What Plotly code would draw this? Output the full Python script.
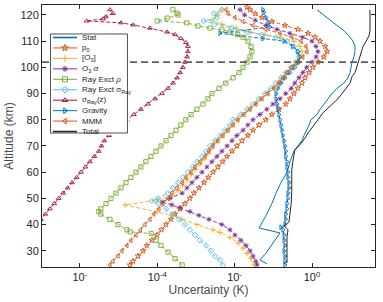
import plotly.graph_objects as go

# ---------------- data (altitude km, uncertainty K) ----------------
alt_stat = [25, 26.5, 29, 32, 35, 36.8, 38.7, 40, 44, 48, 52, 56, 60, 64, 68, 70, 72, 74, 76, 78,
            80, 82, 84, 86, 88, 90, 92, 94, 96, 98, 100, 102, 104, 106, 108, 110, 112, 114,
            116, 118, 120, 122]
stat = [6.8e-2, 4.5e-2, 6.4e-2, 8.7e-2, 0.124, 0.149, 4.27e-2, 4.8e-2, 6.8e-2, 9.2e-2, 0.117,
        0.158, 0.226, 0.27, 0.34, 0.43, 0.55, 0.62, 0.74, 0.84, 0.94, 1.35, 1.61, 2.04, 2.6, 3.3,
        4.4, 6.7, 8.5, 9.6, 10.2, 10.8, 12.1, 12.9, 12.9, 11.5, 9.0, 6.7, 4.4, 2.92, 2.04, 1.35]

alt_p0 = [24.6, 26, 28, 30, 32, 34, 36, 38, 40, 42, 44, 46, 48, 50, 52, 54, 56, 58, 60, 62, 64,
          66, 68, 70, 72, 74, 76, 78, 80, 82, 84, 86, 88, 90, 92, 94, 96, 98, 100, 102, 104, 106,
          108, 110, 111.5, 113, 114.5, 116, 117.5, 119, 120.5, 122, 123]
p0 = [1.98e-5, 2.37e-5, 3.2e-5, 4.3e-5, 5.4e-5, 7.3e-5, 9.8e-5, 1.29e-4, 1.69e-4, 2.27e-4, 2.9e-4,
      3.88e-4, 5.2e-4, 7.0e-4, 8.9e-4, 1.2e-3, 1.62e-3, 2.1e-3, 2.77e-3, 3.7e-3, 4.9e-3, 6.36e-3,
      8.6e-3, 1.15e-2, 1.55e-2, 2.2e-2, 2.98e-2, 4.27e-2, 6.4e-2, 9.2e-2, 0.14, 0.21, 0.27, 0.34,
      0.43, 0.55, 0.66, 0.84, 1.06, 1.43, 2.03, 2.45, 2.2, 1.61, 1.2, 0.79, 0.43, 0.2, 9.2e-2,
      5.1e-2, 3.4e-2, 2.5e-2, 2.1e-2]

alt_o3 = [24.6, 27, 29, 31, 33, 35, 37, 38, 40, 42, 43.5, 44.8, 47.5, 49.4, 51, 53, 55, 57, 59,
          61, 63, 65, 67, 69, 71, 72, 74, 76, 78, 80, 82, 84, 86, 88, 90, 92, 94, 96, 98, 100,
          102, 104, 106, 108, 110, 111.5, 112.5, 113.5, 115, 116.5, 118, 120, 122]
o3 = [3.17e-2, 2.65e-2, 2.09e-2, 1.65e-2, 1.22e-2, 7.6e-3, 4.2e-3, 2.76e-3, 1.06e-3, 4.4e-4,
      2.4e-4, 9.8e-5, 1.47e-5, 9.8e-5, 2.4e-4, 3.45e-4, 4.6e-4, 5.9e-4, 7.5e-4, 9.5e-4, 1.28e-3,
      1.62e-3, 2.05e-3, 2.45e-3, 2.9e-3, 3.5e-3, 4.7e-3, 6.4e-3, 8.6e-3, 1.15e-2, 1.65e-2,
      2.35e-2, 3.4e-2, 4.8e-2, 6.9e-2, 9.8e-2, 0.133, 0.168, 0.226, 0.30, 0.385, 0.49, 0.55,
      0.49, 0.34, 0.149, 6.1e-2, 2.5e-2, 1.1e-2, 4.7e-3, 2.6e-3, 3.7e-3, 4.7e-3]

alt_o3sig = [24.6, 26, 28, 30, 32, 34, 36, 38, 40, 42, 43.5, 45, 46.5, 47.5, 48.6, 50, 52, 54, 56,
             58, 60, 62, 64, 66, 68, 70, 72, 74, 76, 78, 80, 82, 84, 86, 88, 90, 92, 94, 96, 98,
             100, 102, 104, 106, 108, 110, 111.5, 113, 114.5, 116, 118, 120, 122]
o3sig = [3.8e-2, 3.55e-2, 3.0e-2, 2.5e-2, 1.97e-2, 1.46e-2, 1.02e-2, 7.6e-3, 4.7e-3, 2.17e-3,
         1.2e-3, 7.0e-4, 3.9e-4, 2.4e-4, 1.33e-4, 2.14e-4, 4.4e-4, 5.9e-4, 7.9e-4, 1.06e-3,
         1.44e-3, 1.93e-3, 2.6e-3, 3.5e-3, 4.7e-3, 6.4e-3, 8.6e-3, 1.15e-2, 1.65e-2, 2.2e-2,
         3.0e-2, 4.5e-2, 6.8e-2, 9.8e-2, 0.149, 0.21, 0.29, 0.36, 0.46, 0.58, 0.73, 1.0, 1.27,
         1.43, 1.27, 1.0, 0.58, 0.27, 0.124, 6.4e-2, 3.4e-2, 1.8e-2, 1.38e-2]

alt_rho = [24.6, 27, 29.5, 32, 34, 36.6, 37.2, 38, 40, 42, 44, 45, 46, 48, 50, 52, 54, 56, 58, 60,
           62, 64, 66, 68, 70, 72, 74, 76, 78, 80, 82, 84, 86, 88, 90, 92, 94, 96, 98, 100, 102,
           104, 106, 108, 110, 111.5, 112.5, 113.5, 114.3, 115, 115.8, 117, 117.7, 118.8, 120,
           120.7, 122]
ray_rho = [4.4e-4, 2.9e-4, 1.9e-4, 1.25e-4, 9.3e-5, 7.0e-5, 2.0e-5, 1.65e-5, 9.7e-6, 6.0e-6,
           3.5e-6, 3.1e-6, 3.5e-6, 4.76e-6, 6.4e-6, 8.6e-6, 1.16e-5, 1.56e-5, 2.1e-5, 2.84e-5,
           3.8e-5, 5.1e-5, 6.9e-5, 9.3e-5, 1.25e-4, 1.69e-4, 2.27e-4, 3.05e-4, 4.1e-4, 5.5e-4,
           7.5e-4, 1.06e-3, 1.52e-3, 2.05e-3, 2.6e-3, 3.96e-3, 5.9e-3, 9.1e-3, 1.3e-2, 1.65e-2,
           2.09e-2, 2.5e-2, 2.8e-2, 2.65e-2, 2.2e-2, 1.65e-2, 1.2e-2, 7.6e-3, 4.7e-3, 2.3e-3,
           1.13e-3, 5.8e-4, 1.0e-4, 1.8e-4, 3.45e-4, 3.25e-4, 2.55e-4]

alt_rsig = [24.5, 26.5, 28, 30, 32, 34, 36, 38, 40, 42, 44, 46, 48, 49, 50, 52, 54, 56, 58, 60,
            62, 64, 66, 68, 70, 72, 74, 76, 78, 80, 82, 84, 86, 88, 90, 92, 94, 96, 98, 100, 102,
            104, 106, 108, 110, 111.5, 112.5, 113.5, 115, 116.5, 117.7, 119, 120.5, 122]
ray_sig = [5.0e-3, 4.2e-3, 3.1e-3, 2.45e-3, 1.83e-3, 1.28e-3, 9.5e-4, 7.0e-4, 5.2e-4, 3.65e-4,
           2.55e-4, 1.69e-4, 1.05e-4, 7.3e-5, 1.05e-4, 1.9e-4, 2.55e-4, 3.45e-4, 4.6e-4, 6.25e-4,
           8.4e-4, 1.06e-3, 1.44e-3, 1.83e-3, 2.31e-3, 3.1e-3, 4.2e-3, 5.6e-3, 7.6e-3, 9.1e-3,
           1.46e-2, 2.09e-2, 2.98e-2, 4.27e-2, 6.1e-2, 8.7e-2, 0.117, 0.158, 0.213, 0.287, 0.386,
           0.46, 0.43, 0.34, 0.225, 0.117, 5.1e-2, 2.09e-2, 8.6e-3, 3.1e-3, 1.6e-3, 3.5e-3,
           2.9e-3, 4.7e-3]

alt_sigz = [36, 38, 40, 42, 44, 46, 48, 50, 52, 54, 56, 58, 60, 62, 64, 66, 68, 70, 72, 74, 76,
            78, 80, 82, 84, 86, 88, 90, 92, 94, 96, 98, 100, 102, 104, 106, 108, 109.5, 111,
            112.5, 113.5, 115, 116.2, 117, 117.7, 118.5, 119.3, 120.6, 122]
sig_ray_z = [4.5e-8, 5.8e-8, 7.6e-8, 9.9e-8, 1.29e-7, 1.68e-7, 2.19e-7, 2.85e-7, 3.72e-7, 4.84e-7,
             6.3e-7, 8.3e-7, 1.07e-6, 1.4e-6, 1.82e-6, 2.38e-6, 3.1e-6, 3.6e-6, 4.3e-6, 5.7e-6,
             7.6e-6, 1.09e-5, 1.65e-5, 2.5e-5, 3.8e-5, 5.8e-5, 8.8e-5, 1.33e-4, 1.9e-4, 2.55e-4,
             3.25e-4, 3.9e-4, 4.6e-4, 5.2e-4, 5.9e-4, 6.2e-4, 6.2e-4, 5.5e-4, 4.1e-4, 2.9e-4,
             1.8e-4, 6.5e-5, 2.4e-5, 1.16e-5, 1.5e-6, 4.0e-6, 4.7e-6, 7.2e-6, 6.0e-6]

alt_grav = [24.6, 26, 28, 30, 32, 34, 36, 38, 39, 40, 42, 44, 46, 48, 50, 52, 54, 56, 58, 60, 62,
            64, 66, 68, 70, 72, 74, 76, 78, 80, 82, 84, 86, 88, 90, 92, 94, 96, 98, 100, 102,
            104, 106, 108, 110, 111, 113, 115.4, 117, 119, 121, 122]
gravity = [0.2, 0.2, 0.2, 0.19, 0.2, 0.19, 0.19, 0.178, 0.158, 0.2, 0.21, 0.21, 0.226, 0.226,
           0.24, 0.24, 0.254, 0.254, 0.24, 0.24, 0.226, 0.226, 0.21, 0.21, 0.2, 0.19, 0.178,
           0.168, 0.158, 0.149, 0.14, 0.133, 0.125, 0.118, 0.118, 0.133, 0.158, 0.2, 0.27, 0.36,
           0.46, 0.49, 0.43, 0.32, 0.19, 5.4e-2, 4.2e-3, 8.2e-2, 7.3e-2, 6.5e-2, 5.7e-2, 5.4e-2]

alt_mmm = [24.6, 26, 28, 30, 32, 34, 36, 38, 40, 42, 44, 46, 48, 50, 52, 54, 56, 58, 60, 62, 64,
           66, 68, 70, 72, 74, 76, 78, 80, 82, 84, 86, 88, 90, 92, 94, 96, 98, 100, 102, 104,
           106, 108, 110, 111.5, 113, 114.5, 116, 117.5, 119, 120.5, 122]
mmm = [6.0e-6, 7.2e-6, 9.7e-6, 1.23e-5, 1.65e-5, 2.1e-5, 2.84e-5, 3.7e-5, 4.8e-5, 6.5e-5, 8.2e-5,
       1.11e-4, 1.41e-4, 1.9e-4, 2.4e-4, 3.25e-4, 4.4e-4, 5.5e-4, 7.5e-4, 9.5e-4, 1.28e-3,
       1.72e-3, 2.17e-3, 2.76e-3, 3.7e-3, 5.0e-3, 6.75e-3, 9.1e-3, 1.22e-2, 1.75e-2, 2.5e-2,
       3.55e-2, 5.1e-2, 7.3e-2, 0.104, 0.14, 0.178, 0.226, 0.30, 0.41, 0.58, 0.74, 0.70, 0.52,
       0.30, 0.149, 6.4e-2, 3.0e-2, 1.65e-2, 1.02e-2, 6.75e-3, 6.0e-3]

alt_total = [25.3, 28, 30, 32, 35.3, 38, 39.5, 41, 44.4, 48, 53, 56, 60.8, 64, 68.5, 70, 73, 75,
             77.3, 80, 82.6, 85, 87.6, 90, 92.5, 94, 96.4, 98, 101.7, 104, 108, 110, 112, 114,
             118, 122]
total = [0.226, 0.226, 0.226, 0.226, 0.226, 0.24, 0.19, 0.254, 0.27, 0.29, 0.30, 0.30, 0.30, 0.32,
         0.36, 0.46, 0.66, 0.79, 1.06, 1.43, 1.9, 2.92, 4.4, 6.0, 8.0, 9.6, 10.8, 12.9, 15.5,
         17.4, 20.8, 25.0, 29.7, 31.5, 31.5, 31.5]

ref_alt = 102  # dashed reference altitude

legend_names = ["Stat", "p<sub>0</sub>", "[O<sub>3</sub>]", "O<sub>3</sub> <i>σ</i>",
                "Ray Exct <i>ρ</i>", "Ray Exct σ<sub>Ray</sub>", "σ<sub>Ray</sub>(z)",
                "Gravity", "MMM", "Total"]

x_tick_vals = [1e-6, 1e-4, 1e-2, 1]
x_tick_text = ["10<sup>-</sup>", "10<sup>-4</sup>", "10<sup>-</sup>", "10<sup>0</sup>"]
y_tick_vals = [30, 40, 50, 60, 70, 80, 90, 100, 110, 120]

# ---------------- styling ----------------
colors = ["#0072BD", "#D95319", "#EDB120", "#7E2F8E", "#77AC30", "#4DBEEE", "#A2142F",
          "#0072BD", "#D95319", "#262626"]
symbols = [None, "star-open", "cross-thin-open", "asterisk-open", "square-open", "diamond-open",
           "triangle-up-open", "triangle-right-open", "triangle-left-open", None]
series = [(alt_stat, stat), (alt_p0, p0), (alt_o3, o3), (alt_o3sig, o3sig), (alt_rho, ray_rho),
          (alt_rsig, ray_sig), (alt_sigz, sig_ray_z), (alt_grav, gravity), (alt_mmm, mmm),
          (alt_total, total)]

FONT = "Liberation Sans, Arial, sans-serif"
TXT = "#262626"
X_RANGE = [-6.977, 1.628]
Y_RANGE = [23.8, 123.8]
MSIZE = 4.2

fig = go.Figure()
for (alts, vals), col, sym in zip(series, colors, symbols):
    if sym is None:
        fig.add_trace(go.Scatter(x=vals, y=alts, mode="lines",
                                 line=dict(color=col, width=1), showlegend=False))
    else:
        fig.add_trace(go.Scatter(x=vals, y=alts, mode="lines+markers",
                                 line=dict(color=col, width=0.9, dash="4px,2px"),
                                 marker=dict(symbol=sym, size=MSIZE, color=col,
                                             line=dict(color=col, width=0.9)),
                                 showlegend=False))

# dashed reference line
fig.add_trace(go.Scatter(x=[10 ** X_RANGE[0], 10 ** X_RANGE[1]], y=[ref_alt, ref_alt],
                         mode="lines", line=dict(color="#606060", width=1.6, dash="7px,4px"),
                         showlegend=False, hoverinfo="skip"))

# ---------------- custom legend (separate subplot drawn on top) ----------------
W, H = 383, 302
ML, MR, MT, MB = 42, 8, 5, 35
pw, ph = W - ML - MR, H - MT - MB
box_px = (49, 129, 32, 135)  # left, right, top, bottom in pixels
dom_x = [(box_px[0] - ML) / pw, (box_px[1] - ML) / pw]
dom_y = [(H - MB - box_px[3]) / ph, (H - MB - box_px[2]) / ph]
PAD = 0.02


def lx(px):
    return -PAD + (1 + 2 * PAD) * (px - box_px[0]) / (box_px[1] - box_px[0])


def ly(py):
    return -PAD + (1 + 2 * PAD) * (box_px[3] - py) / (box_px[3] - box_px[2])


annotations = []
for i, (name, col, sym) in enumerate(zip(legend_names, colors, symbols)):
    py = 37.5 + i * 10.45
    yy = ly(py)
    fig.add_trace(go.Scatter(x=[lx(53), lx(77)], y=[yy, yy], mode="lines",
                             line=dict(color=col, width=1.6 if sym is None else 1),
                             xaxis="x2", yaxis="y2", showlegend=False, hoverinfo="skip"))
    if sym is not None:
        fig.add_trace(go.Scatter(x=[lx(65)], y=[yy], mode="markers",
                                 marker=dict(symbol=sym, size=5, color=col,
                                             line=dict(color=col, width=1)),
                                 xaxis="x2", yaxis="y2", showlegend=False, hoverinfo="skip"))
    annotations.append(dict(x=lx(80), y=yy, xref="x2", yref="y2", text=name, showarrow=False,
                            xanchor="left", yanchor="middle",
                            font=dict(family=FONT, size=8, color=TXT)))

fig.update_layout(
    width=W, height=H,
    margin=dict(l=ML, r=MR, t=MT, b=MB),
    paper_bgcolor="white", plot_bgcolor="white",
    showlegend=False,
    font=dict(family=FONT, color=TXT, size=11),
    xaxis=dict(type="log", range=X_RANGE, tickvals=x_tick_vals, ticktext=x_tick_text,
               ticks="inside", ticklen=4, tickcolor=TXT, showline=True, linecolor=TXT,
               linewidth=1, mirror="ticks", showgrid=False, zeroline=False,
               tickfont=dict(size=11, color=TXT),
               title=dict(text="Uncertainty (K)", font=dict(size=12, color="#4a4a4a"),
                          standoff=2)),
    yaxis=dict(range=Y_RANGE, tickvals=y_tick_vals, ticks="inside", ticklen=4, tickcolor=TXT,
               showline=True, linecolor=TXT, linewidth=1, mirror="ticks", showgrid=False,
               zeroline=False, tickfont=dict(size=11, color=TXT),
               title=dict(text="Altitude (km)", font=dict(size=12, color="#4a4a4a"),
                          standoff=4)),
    xaxis2=dict(domain=dom_x, range=[-PAD, 1 + PAD], visible=False, anchor="y2",
                fixedrange=True),
    yaxis2=dict(domain=dom_y, range=[-PAD, 1 + PAD], visible=False, anchor="x2",
                fixedrange=True),
    shapes=[dict(type="rect", xref="x2", yref="y2", x0=0, x1=1, y0=0, y1=1, layer="below",
                 fillcolor="white", line=dict(color=TXT, width=0.8))],
    annotations=annotations,
)

fig.write_html("out.html")
